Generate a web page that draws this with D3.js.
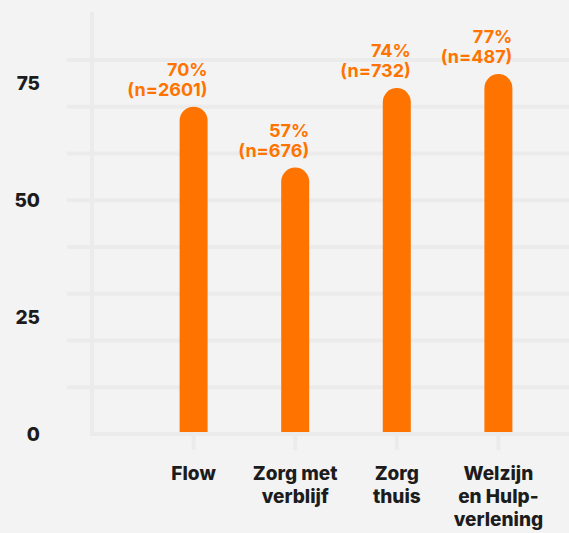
<!DOCTYPE html>
<html>
<head>
<meta charset="utf-8">
<script src="https://cdn.jsdelivr.net/npm/d3@7"></script>
<style>
  html, body { margin: 0; padding: 0; background: #f3f3f3; }
  svg { display: block; font-family: Inter, "DejaVu Sans", sans-serif; }
</style>
</head>
<body>
<svg id="chart" width="569" height="533"></svg>
<script>
const categories = ["Flow", "Zorg met verblijf", "Zorg thuis", "Welzijn en Hulpverlening"]
const categoryLines = [["Flow"], ["Zorg met", "verblijf"], ["Zorg", "thuis"], ["Welzijn", "en Hulp-", "verlening"]]
const percentages = [70, 57, 74, 77]
const counts = [2601, 676, 732, 487]
const yTicks = [0, 25, 50, 75]
const gridValues = [10, 20, 30, 40, 50, 60, 70, 80]

const svg = d3.select("#chart")
const orange = "#ff7300"
const gridColor = "#ebebeb"
const barWidth = 28

const x = d3.scalePoint()
            .domain(categories)
            .range([92, 600])
            .padding(1)

const y = d3.scaleLinear()
            .domain([0, 80])
            .range([434, 60])

// gridlines
svg.append("g")
   .selectAll("line")
   .data(gridValues)
   .enter()
   .append("line")
   .attr("x1", 67)
   .attr("x2", 569)
   .attr("y1", (d) => y(d))
   .attr("y2", (d) => y(d))
   .attr("stroke", gridColor)
   .attr("stroke-width", 4)

// vertical axis line
svg.append("line")
   .attr("x1", 92).attr("x2", 92)
   .attr("y1", 12).attr("y2", y(0) + 2)
   .attr("stroke", gridColor)
   .attr("stroke-width", 4)

// baseline + category ticks
svg.append("line")
   .attr("x1", 90).attr("x2", 569)
   .attr("y1", y(0)).attr("y2", y(0))
   .attr("stroke", gridColor)
   .attr("stroke-width", 4)

svg.append("g")
   .selectAll("line")
   .data(categories)
   .enter()
   .append("line")
   .attr("x1", (d) => x(d)).attr("x2", (d) => x(d))
   .attr("y1", y(0) + 2).attr("y2", y(0) + 16)
   .attr("stroke", gridColor)
   .attr("stroke-width", 4)

// y tick labels
svg.append("g")
   .selectAll("text")
   .data(yTicks)
   .enter()
   .append("text")
   .attr("x", 40)
   .attr("y", (d) => y(d))
   .attr("dy", "0.36em")
   .attr("text-anchor", "end")
   .attr("font-size", 19)
   .attr("font-weight", 800)
   .attr("fill", "#1c1c1c")
   .text((d) => d)

// bars with rounded top
const barPath = (cx, top, bottom, w) => {
  const r = w / 2
  const p = d3.path()
  p.moveTo(cx - r, bottom)
  p.lineTo(cx - r, top + r)
  p.arc(cx, top + r, r, Math.PI, 0)
  p.lineTo(cx + r, bottom)
  p.closePath()
  return p.toString()
}

const bars = svg.append("g")
                .selectAll("g")
                .data(categories)
                .enter()
                .append("g")

bars.append("path")
    .attr("d", (d, i) => barPath(x(d), y(percentages[i]), y(0) - 2, barWidth))
    .attr("fill", orange)

bars.append("text")
    .attr("x", (d) => x(d) + barWidth / 2)
    .attr("y", (d, i) => y(percentages[i]) - 31)
    .attr("text-anchor", "end")
    .attr("font-size", 18)
    .attr("font-weight", 700)
    .attr("fill", orange)
    .text((d, i) => percentages[i] + "%")

bars.append("text")
    .attr("x", (d) => x(d) + barWidth / 2)
    .attr("y", (d, i) => y(percentages[i]) - 11)
    .attr("text-anchor", "end")
    .attr("font-size", 18)
    .attr("font-weight", 700)
    .attr("fill", orange)
    .text((d, i) => "(n=" + counts[i] + ")")

// category labels
const labels = svg.append("g")
                  .selectAll("text")
                  .data(categories)
                  .enter()
                  .append("text")
                  .attr("text-anchor", "middle")
                  .attr("font-size", 19)
                  .attr("font-weight", 800)
                  .attr("fill", "#1c1c1c")

labels.selectAll("tspan")
      .data((d, i) => categoryLines[i].map((line) => ({ line, cat: d })))
      .enter()
      .append("tspan")
      .attr("x", (d) => x(d.cat))
      .attr("y", (d, j) => 480 + j * 23)
      .text((d) => d.line)
</script>
</body>
</html>
